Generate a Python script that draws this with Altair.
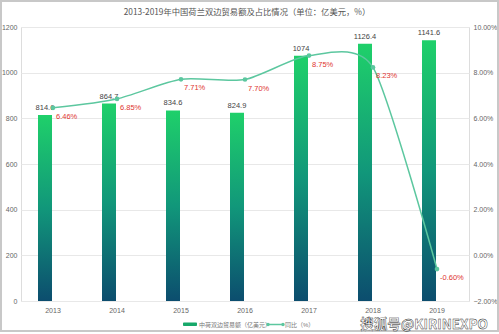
import altair as alt
import pandas as pd

years = ["2013", "2014", "2015", "2016", "2017", "2018", "2019"]
trade = [814.6, 864.7, 834.6, 824.9, 1074, 1126.4, 1141.6]
share = [6.46, 6.85, 7.71, 7.70, 8.75, 8.23, -0.60]

title_text = "2013-2019年中国荷兰双边贸易额及占比情况（单位：亿美元，%）"
legend_bar = "中荷双边贸易额（亿美元）"
legend_line = "同比（%）"
watermark = "搜狐号@KIRINEXPO"

df = pd.DataFrame({
    "year": years,
    "trade": trade,
    "share": share,
    "trade_label": [f"{v:g}" for v in trade],
    "share_label": [f"{v:.2f}%" for v in share],
})

FONT = "Liberation Sans, Noto Sans CJK SC"
LINE_C = "#5cc79f"
RED = "#e0342f"

base = alt.Chart(df)
x = alt.X("year:N", sort=years,
          scale=alt.Scale(paddingInner=0, paddingOuter=0),
          axis=alt.Axis(title=None, labelAngle=0, domain=False, ticks=False,
                        labelFontSize=7, labelColor="#666", labelPadding=5))

grad = alt.Gradient(gradient="linear",
                    stops=[alt.GradientStop(color="#1fd06a", offset=0),
                           alt.GradientStop(color="#11977a", offset=0.5),
                           alt.GradientStop(color="#0c4d6e", offset=1)],
                    x1=1, x2=1, y1=0, y2=1)

y_left = alt.Y("trade:Q", scale=alt.Scale(domain=[0, 1200], nice=False),
               axis=alt.Axis(title=None, orient="left", values=[0, 200, 400, 600, 800, 1000, 1200],
                             format="d", domain=False, ticks=False, grid=True, gridColor="#e8e8e8",
                             labelFontSize=7, labelColor="#666", labelPadding=4))

bars = base.mark_bar(color=grad, size=14, xOffset=-8).encode(x=x, y=y_left)
bar_text = base.mark_text(baseline="bottom", dy=-3, dx=-8, fontSize=7.5, color="#444").encode(
    x=x, y=y_left, text="trade_label:N")
left = alt.layer(bars, bar_text)

y_right = alt.Y("share:Q", scale=alt.Scale(domain=[-2, 10], nice=False),
                axis=alt.Axis(title=None, orient="right", values=[-2, 0, 2, 4, 6, 8, 10],
                              labelExpr="format(datum.value, '.2f') + '%'",
                              domain=False, ticks=False, grid=False,
                              labelFontSize=7, labelColor="#666", labelPadding=4))
line = base.mark_line(color=LINE_C, strokeWidth=1.5, interpolate="cardinal", tension=0.3).encode(x=x, y=y_right)
pts = base.mark_circle(color=LINE_C, size=22, opacity=1).encode(x=x, y=y_right)
pct_text = base.mark_text(align="left", baseline="middle", dx=3, dy=9, fontSize=7.5, color=RED).encode(
    x=x, y=y_right, text="share_label:N")
right = alt.layer(line, pts, pct_text)

one = alt.Chart(pd.DataFrame({"k": [0]}))
frame = one.mark_rect(filled=False, stroke="#c8c8c8", strokeWidth=2).encode(
    x=alt.value(-20), x2=alt.value(477), y=alt.value(-26), y2=alt.value(304))
title = one.mark_text(align="center", baseline="middle", fontSize=8.3, color="#555",
                      font="Noto Sans CJK SC").encode(
    x=alt.value(226), y=alt.value(-14), text=alt.value(title_text))
leg_rect = one.mark_rect(color="#17a86a", cornerRadius=1).encode(
    x=alt.value(162), x2=alt.value(176), y=alt.value(295.5), y2=alt.value(299))
leg_t1 = one.mark_text(align="left", baseline="middle", fontSize=6, color="#777").encode(
    x=alt.value(178), y=alt.value(297.5), text=alt.value(legend_bar))
leg_line = one.mark_rule(color=LINE_C, strokeWidth=1.5).encode(
    x=alt.value(247), x2=alt.value(262), y=alt.value(297.5))
leg_pt = alt.Chart(pd.DataFrame({"p": [247, 262]})).mark_circle(color=LINE_C, size=12, opacity=1).encode(
    x=alt.X("p:Q", scale=None), y=alt.value(297.5))
leg_t2 = one.mark_text(align="left", baseline="middle", fontSize=6, color="#777").encode(
    x=alt.value(264), y=alt.value(297.5), text=alt.value(legend_line))
wm = one.mark_text(align="right", baseline="middle", fontSize=13.5, font="Noto Sans CJK SC",
                   fontWeight="bold", fill="white", stroke="#222", strokeWidth=0.4).encode(
    x=alt.value(467), y=alt.value(298), text=alt.value(watermark))

chart = alt.layer(left, right, frame, title, leg_rect, leg_t1, leg_line, leg_pt, leg_t2, wm).resolve_scale(
    y="independent"
).properties(
    width=448, height=274,
    autosize=alt.AutoSizeParams(type="none"),
    padding={"left": 21, "top": 27, "right": 30, "bottom": 33},
).configure_view(stroke=None).configure(font=FONT, background="white")

chart.save("out.html", embed_options={"renderer": "svg", "actions": False})
